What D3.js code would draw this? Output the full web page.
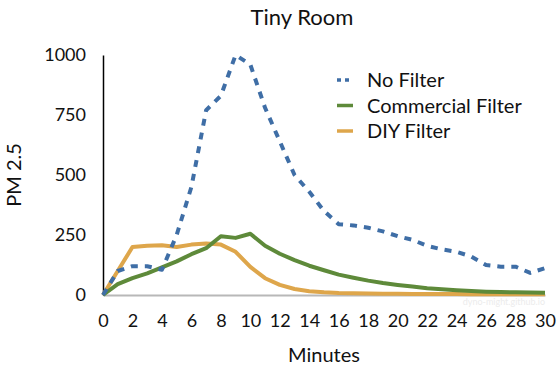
<!DOCTYPE html>
<html><head><meta charset="utf-8">
<script src="https://cdn.jsdelivr.net/npm/d3@7"></script>
<style>body{margin:0;background:#fff;} svg{display:block;} text{font-family:Lato,"Open Sans",sans-serif;}</style>
</head><body>
<svg id="chart" width="560" height="368"></svg>
<script>
const minutes = d3.range(0, 31);
const noFilter = [0,100,120,120,105,250,450,770,830,1000,960,780,640,500,430,350,295,290,280,265,245,230,205,190,180,160,125,118,118,92,112];
const commercial = [0,45,70,90,115,140,170,195,245,238,255,205,172,145,122,103,85,72,60,50,42,35,28,24,20,17,14,12,11,10,9];
const diy = [0,100,200,205,207,200,210,215,210,180,117,70,42,25,16,11,8,7,6,5,5,4,4,4,4,3,3,3,3,3,3];
const yTicks = [0,250,500,750,1000];
const xTicks = d3.range(0, 31, 2);
const seriesNames = ["No Filter","Commercial Filter","DIY Filter"];
const colors = ["#3f6ea6","#5e8a3a","#dea64b"];

const svg = d3.select("#chart");
const x = d3.scaleLinear().domain([0,30]).range([103,545]);
const y = d3.scaleLinear().domain([0,1000]).range([295,55]);

// x axis
svg.append("g").attr("transform","translate(0,295)")
  .call(d3.axisBottom(x).tickValues(xTicks).tickSize(0).tickPadding(19).tickFormat(d3.format("d")))
  .call(g=>g.select(".domain").attr("stroke","#b8b8b8").attr("stroke-width",2))
  .call(g=>g.selectAll("text").attr("font-size",18).attr("fill","#111"));
// y axis
svg.append("g").attr("transform","translate(103,0)")
  .call(d3.axisLeft(y).tickValues(yTicks).tickSize(0).tickPadding(17).tickFormat(d3.format("d")))
  .call(g=>g.select(".domain").attr("stroke","#000").attr("stroke-width",1.5))
  .call(g=>g.selectAll("text").attr("font-size",18).attr("fill","#111"));

const line = d3.line().x((d,i)=>x(minutes[i])).y(d=>y(d));
const data = [noFilter, commercial, diy];
[2,1,0].forEach(k=>{
  svg.append("path").datum(data[k]).attr("d",line)
    .attr("fill","none").attr("stroke",colors[k]).attr("stroke-width",4)
    .attr("stroke-linejoin","round")
    .attr("stroke-dasharray", k===0 ? "7,7" : null);
});

// title
svg.append("text").attr("x",302).attr("y",25).attr("text-anchor","middle")
  .attr("font-size",22).attr("fill","#111").text("Tiny Room");
// axis titles
svg.append("text").attr("x",324).attr("y",362).attr("text-anchor","middle")
  .attr("font-size",20).attr("fill","#111").text("Minutes");
svg.append("text").attr("transform","translate(21,175) rotate(-90)").attr("text-anchor","middle")
  .attr("font-size",20).attr("fill","#111").text("PM 2.5");

// legend
const lg = svg.append("g");
seriesNames.forEach((n,i)=>{
  const yy = 80 + i*25.5;
  lg.append("line").attr("x1",337).attr("x2",353).attr("y1",yy).attr("y2",yy)
    .attr("stroke",colors[i]).attr("stroke-width",3.5)
    .attr("stroke-dasharray", i===0 ? "4,4" : null);
  lg.append("text").attr("x",367).attr("y",yy+7).attr("font-size",20).attr("fill","#111").text(n);
});

// faint watermark
svg.append("text").attr("x",545).attr("y",305).attr("text-anchor","end")
  .attr("font-size",9).attr("fill","#ececec").text("dyno-might.github.io");
</script>
</body></html>
